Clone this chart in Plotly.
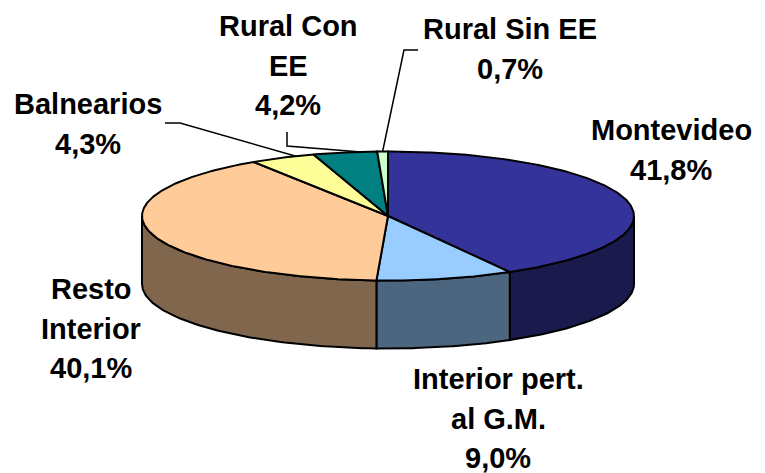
import numpy as np
import plotly.graph_objects as go

categories = ["Montevideo", "Interior pert. al G.M.", "Resto Interior", "Balnearios", "Rural Con EE", "Rural Sin EE"]
values = [41.8, 9.0, 40.1, 4.3, 4.2, 0.7]
top_colors = ["#333399", "#99CCFF", "#FFCC99", "#FFFF99", "#008080", "#CCFFCC"]
side_colors = ["#1A1A4D", "#4D6680", "#80664D", "#80804D", "#004040", "#668066"]
label_lines = [
    ["Montevideo", "41,8%"],
    ["Interior pert.", "al G.M.", "9,0%"],
    ["Resto", "Interior", "40,1%"],
    ["Balnearios", "4,3%"],
    ["Rural Con", "EE", "4,2%"],
    ["Rural Sin EE", "0,7%"],
]
label_x = [671, 498, 91, 88, 288, 510]
label_y = [130, 379, 289, 104, 26, 29]
label_step = 39.5
font_size = 29

CX, CY, RX, RY, DEPTH = 388, 216, 246, 64.5, 68
PAGE_MARGIN = 8  # the page body offsets the figure by this much


def pt(deg, dy=0.0):
    a = np.radians(deg)
    return CX + RX * np.sin(a), CY - RY * np.cos(a) + dy


total = sum(values)
edges = np.concatenate([[0], np.cumsum(values)]) / total * 360

fig = go.Figure()


def poly(x, y, color):
    fig.add_trace(go.Scatter(x=x, y=y, mode="lines", fill="toself", fillcolor=color,
                             line=dict(color="black", width=2), hoverinfo="skip", showlegend=False))


# Side wall (only the front half of the rim is visible)
for i in range(len(values)):
    a0, a1 = max(edges[i], 90), min(edges[i + 1], 270)
    if a1 <= a0:
        continue
    t = np.linspace(a0, a1, 80)
    xt, yt = pt(t)
    xb, yb = pt(t, DEPTH)
    poly(np.r_[xt, xb[::-1], xt[0]], np.r_[yt, yb[::-1], yt[0]], side_colors[i])

# Top face
for i in range(len(values)):
    t = np.linspace(edges[i], edges[i + 1], max(int(edges[i + 1] - edges[i]) * 2, 8))
    xt, yt = pt(t)
    poly(np.r_[CX, xt, CX], np.r_[CY, yt, CY], top_colors[i])

# Leader lines, ending on the rim of their slice
leaders = {3: ([165, 180], [123, 123], 0.72), 4: ([287, 287], [132, 146], 0.75), 5: ([418, 404], [50, 50], 0.5)}
for i, (lx, ly, frac) in leaders.items():
    ex, ey = pt(edges[i] + frac * (edges[i + 1] - edges[i]))
    fig.add_trace(go.Scatter(x=lx + [ex], y=ly + [ey], mode="lines", line=dict(color="black", width=1.5),
                             hoverinfo="skip", showlegend=False))

for lines, x, y in zip(label_lines, label_x, label_y):
    for k, line in enumerate(lines):
        fig.add_annotation(x=x, y=y + k * label_step, text=f"<b>{line}</b>", showarrow=False,
                           xanchor="center", yanchor="middle",
                           font=dict(family="Liberation Sans", size=font_size, color="black"))

fig.update_layout(width=765 - PAGE_MARGIN, height=473 - PAGE_MARGIN, margin=dict(l=0, r=0, t=0, b=0),
                  paper_bgcolor="white", plot_bgcolor="white", showlegend=False,
                  xaxis=dict(range=[PAGE_MARGIN, 765], visible=False, fixedrange=True),
                  yaxis=dict(range=[473, PAGE_MARGIN], visible=False, fixedrange=True))
fig.write_html("out.html")
